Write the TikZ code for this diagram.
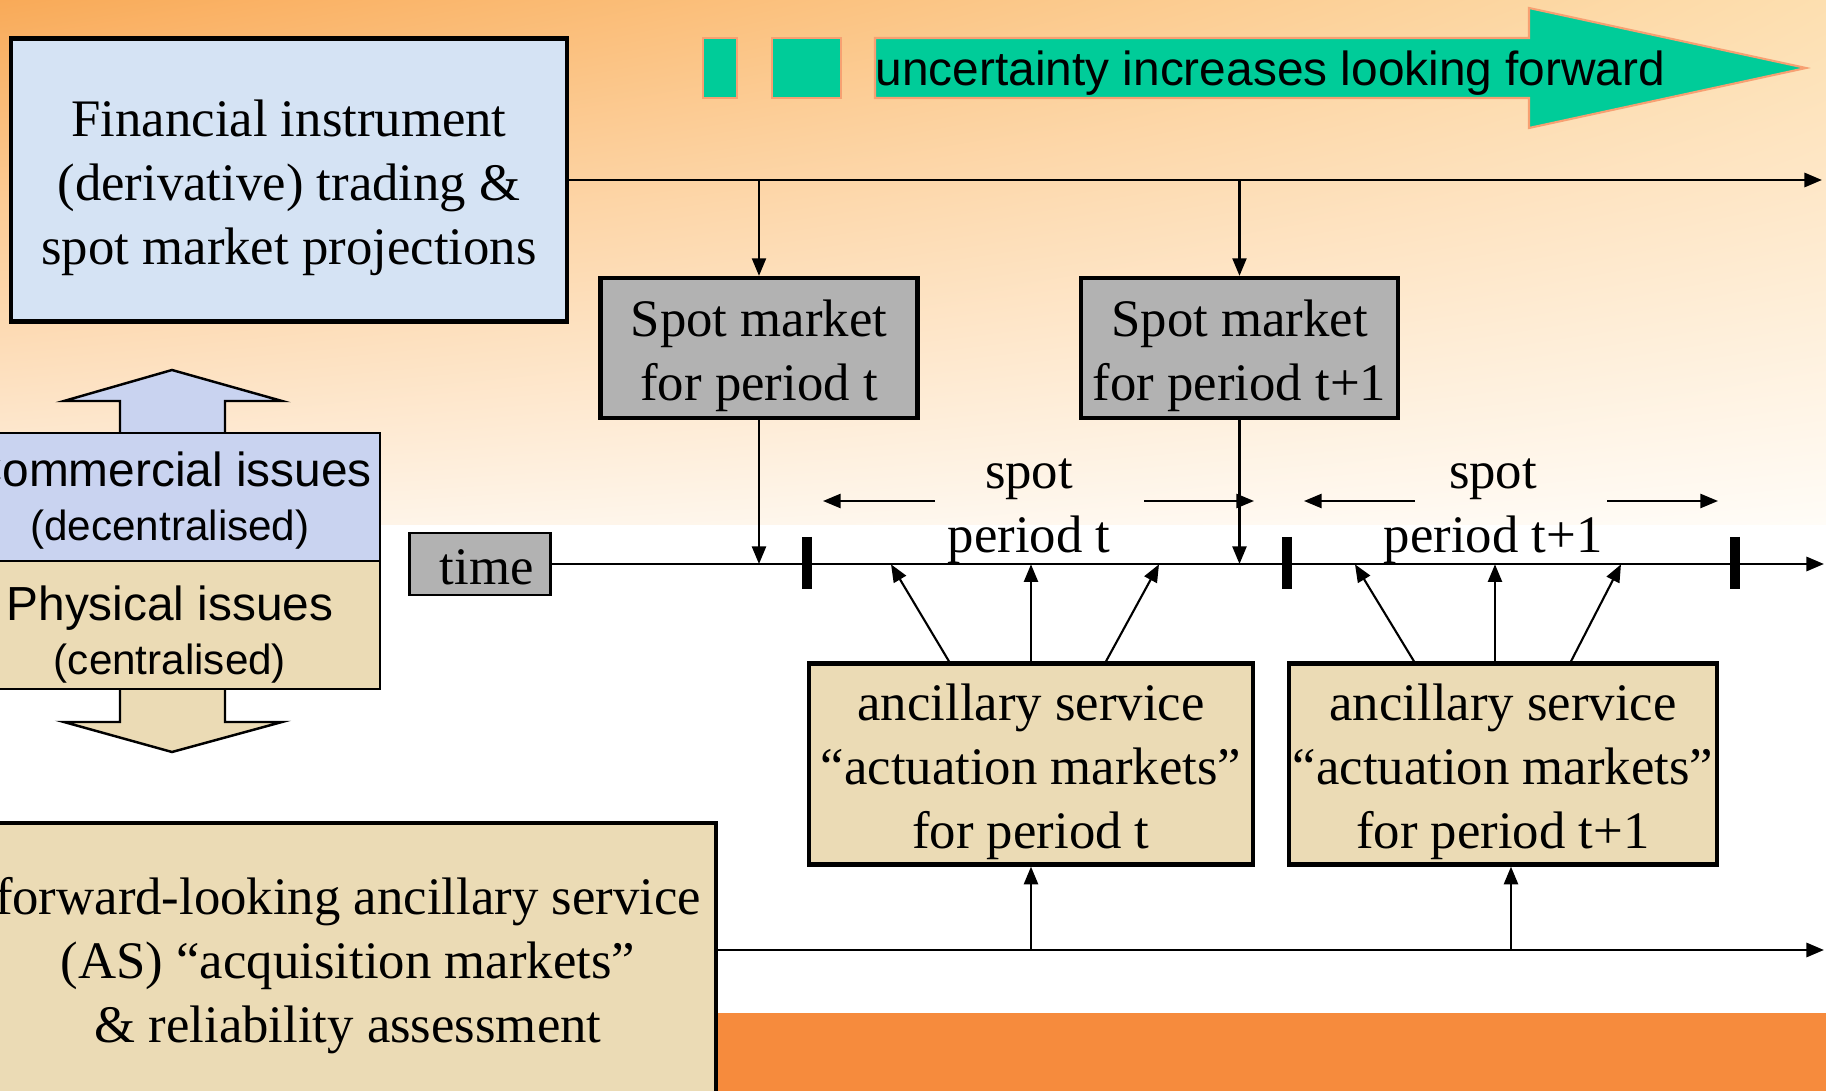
\documentclass[tikz,border=0pt]{standalone}
\usepackage{fontspec}
\setmainfont{Liberation Serif}
\newfontfamily\arialfont{Liberation Sans}
\usepackage{xcolor}
\usetikzlibrary{arrows.meta,
                positioning,
                shadings,
                calc}

\definecolor{bgorange}{HTML}{F9AA58}
\definecolor{bgcream}{HTML}{FDDFB0}
\definecolor{bgmidleft}{HTML}{FCCB94}
\definecolor{bgmidright}{HTML}{FEE8CA}
\definecolor{bgpale}{HTML}{FFFCF7}
\definecolor{bgleft}{HTML}{FEF2E4}
\definecolor{bandorange}{HTML}{F68B3D}
\definecolor{boxblue}{HTML}{D5E3F4}
\definecolor{boxlilac}{HTML}{C9D3F0}
\definecolor{boxtan}{HTML}{EBDBB5}
\definecolor{boxgray}{HTML}{B2B2B2}
\definecolor{arrgreen}{HTML}{00CC99}
\definecolor{arredge}{HTML}{F7A072}

% strut that lowers the text a little inside its box
\newcommand{\tstrut}[1][1em]{\rule{0pt}{#1}}

\begin{document}
\begin{tikzpicture}[
        x=0.01cm, y=-0.01cm,
        every node/.style={align=center, inner sep=0pt, font=\fontsize{15}{18.2}\selectfont},
        box/.style={draw, line width=1.2pt},
        thinbox/.style={draw, line width=0.7pt},
        issuefont/.style={font=\arialfont\fontsize{13.6}{15.4}\selectfont},
        arr/.style={-{Triangle[length=5pt, width=4pt]}, line width=0.6pt},
        axis/.style={arr, line width=0.8pt}
        ]
        \useasboundingbox (0,0) rectangle (1826,1091);
        \clip (0,0) rectangle (1826,1091);

        % Background
        \fill[white] (0,0) rectangle (1826,1091);
        \shade[upper left=bgorange, upper right=bgcream, lower left=bgmidleft, lower right=bgmidright] (0,0) rectangle (1826,200);
        \shade[upper left=bgmidleft, upper right=bgmidright, lower left=bgleft, lower right=bgpale] (0,200) rectangle (1826,525);
        \fill[bandorange] (716,1013) rectangle (1826,1091);

        % Uncertainty arrow
        \draw[draw=arredge, fill=arrgreen, line width=0.6pt] (703,38) rectangle (737,98);
        \draw[draw=arredge, fill=arrgreen, line width=0.6pt] (772,38) rectangle (841,98);
        \draw[draw=arredge, fill=arrgreen, line width=0.6pt] (875,38) -- (1529,38) -- (1529,8) -- (1806,68) -- (1529,128) -- (1529,98) -- (875,98) -- cycle;
        \node[anchor=west, font=\arialfont\fontsize{13.6}{16}\selectfont] (uncert) at (875,73) {uncertainty increases looking forward};

        % Double arrow
        \draw[thinbox, fill=boxlilac] (120,433) -- (120,401) -- (64,401) -- (172,370) -- (282,401) -- (225,401) -- (225,433);
        \draw[thinbox, fill=boxtan] (120,689) -- (120,722) -- (64,722) -- (172,752) -- (282,722) -- (225,722) -- (225,689);

        % Nodes
        \node[box, fill=boxblue, minimum width=5.55cm, minimum height=2.83cm] (fin) at (289,180) {\tstrut Financial instrument\\(derivative) trading \&\\spot market projections};
        \node[box, fill=boxgray, minimum width=3.17cm, minimum height=1.4cm] (spott) at (759,348) {\tstrut Spot market\\for period t};
        \node[box, fill=boxgray, minimum width=3.17cm, minimum height=1.4cm, right=1.59cm of spott] (spottone) {\tstrut Spot market\\for period t+1};
        \node[thinbox, line width=0.6pt, fill=boxgray, minimum width=1.41cm, minimum height=0.62cm] (time) at (480,564) {\ \tstrut[0.8em]time};
        \node[thinbox, fill=boxlilac, issuefont, minimum width=4.2cm, minimum height=1.28cm] (comm) at (170,497) {\tstrut[12pt]Commercial issues\\{\fontsize{12}{15.4}\selectfont (decentralised)}};
        \node[thinbox, fill=boxtan, issuefont, minimum width=4.2cm, minimum height=1.28cm] (phys) at (170,625) {\tstrut[15.5pt]Physical issues\\{\fontsize{12}{15.4}\selectfont (centralised)}};
        \node (lblt) at (1029,511) {spot\\period t};
        \node (lbltone) at (1493,511) {spot\\period t+1};
        \node[box, fill=boxtan, minimum width=4.44cm, minimum height=2.01cm] (ast) at (1031,764) {\tstrut ancillary service\\“actuation markets”\\for period t};
        \node[box, fill=boxtan, minimum width=4.27cm, minimum height=2.01cm, right=0.32cm of ast] (astone) {\tstrut ancillary service\\“actuation markets”\\for period t+1};
        \node[box, fill=boxtan, minimum width=7.36cm, minimum height=2.7cm] (fwd) at (348,958) {\tstrut forward-looking ancillary service\\(AS) “acquisition markets”\\\& reliability assessment};

        % Time axis ticks
        \foreach \x in {807,1287,1735}
            \draw[line width=2.8pt] (\x,537) -- (\x,589);

        % Arrows
        \coordinate (topend) at (1822,180);
        \coordinate (timeend) at (1824,564);
        \coordinate (fwdout) at ($(fwd.east)+(0,-8)$);
        \coordinate (fwdend) at (1824,950);
        \coordinate (asup) at ($(astone.south)+(8,0)$);

        \draw[axis] (fin.east) -- (topend);
        \draw[arr] (spott.north |- fin.east) -- (spott.north);
        \draw[arr] (spottone.north |- fin.east) -- (spottone.north);

        \draw[axis] (time.east) -- (timeend);
        \draw[arr] (spott.south) -- (spott.south |- time.east);
        \draw[arr] (spottone.south) -- (spottone.south |- time.east);

        \draw[arr] ($(lblt.center)+(-94,-10)$) -- ++(-112,0);
        \draw[arr] ($(lblt.center)+(115,-10)$) -- ++(110,0);
        \draw[arr] ($(lbltone.center)+(-78,-10)$) -- ++(-111,0);
        \draw[arr] ($(lbltone.center)+(114,-10)$) -- ++(111,0);

        \foreach \a/\b in {-82/-140, 0/0, 75/128}
            \draw[arr] ($(ast.north)+(\a,0)$) -- ($(ast.north)+(\b,-97)$);
        \foreach \a/\b in {-89/-148, -8/-8, 68/118}
            \draw[arr] ($(astone.north)+(\a,0)$) -- ($(astone.north)+(\b,-97)$);

        \draw[axis] (fwdout) -- (fwdend);
        \draw[arr] (ast.south |- fwdout) -- (ast.south);
        \draw[arr] (asup |- fwdout) -- (asup);

\end{tikzpicture}
\end{document}
